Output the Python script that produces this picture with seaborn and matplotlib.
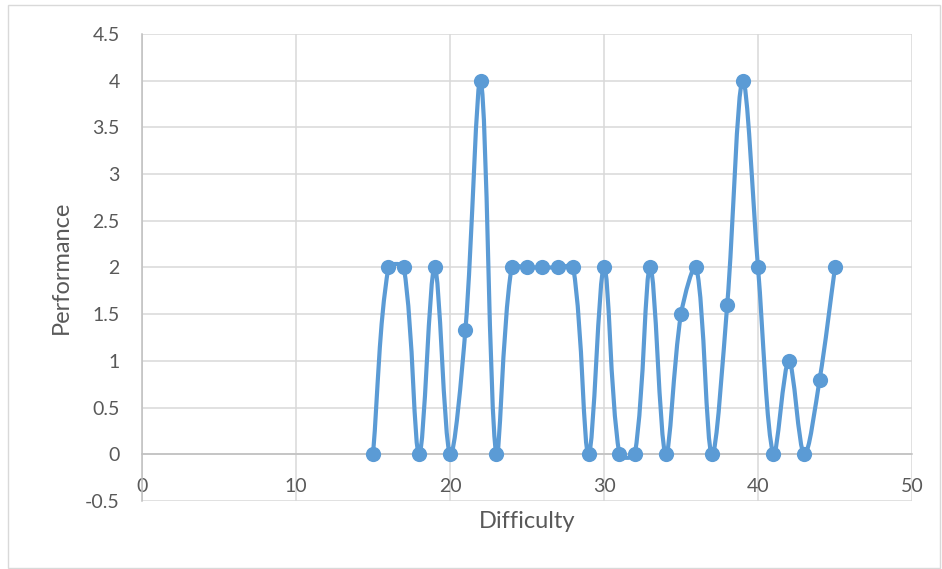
import numpy as np
import pandas as pd
import matplotlib
matplotlib.use("Agg")
import matplotlib.pyplot as plt
from matplotlib.path import Path
from matplotlib.patches import PathPatch, Rectangle
import seaborn as sns

# data
difficulty = [15, 16, 17, 18, 19, 20, 21, 22, 23, 24, 25, 26, 27, 28, 29, 30,
              31, 32, 33, 34, 35, 36, 37, 38, 39, 40, 41, 42, 43, 44, 45]
performance = [0, 2, 2, 0, 2, 0, 1.33, 4, 0, 2, 2, 2, 2, 2, 0, 2,
               0, 0, 2, 0, 1.5, 2, 0, 1.6, 4, 2, 0, 1, 0, 0.8, 2]
x_ticks = [0, 10, 20, 30, 40, 50]
y_ticks = [-0.5, 0, 0.5, 1, 1.5, 2, 2.5, 3, 3.5, 4, 4.5]

df = pd.DataFrame({"Difficulty": difficulty, "Performance": performance})

sns.set_style("white")
plt.rcParams["font.family"] = ["Lato", "DejaVu Sans"]

blue = "#5B9BD5"
grey_txt = "#595959"

fig = plt.figure(figsize=(9.42, 5.69), dpi=100)
fig.subplots_adjust(left=142 / 942, right=912 / 942, top=1 - 34 / 569, bottom=1 - 501 / 569)
ax = fig.add_subplot(111)
ax.set_xlim(0, 50)
ax.set_ylim(-0.5, 4.5)

# Excel-like smoothed line: bezier segments, control arms scaled by chord lengths
# (worked out in pixel space, then mapped back to data coordinates)
pix = ax.transData.transform(df[["Difficulty", "Performance"]].to_numpy(dtype=float))
n = len(pix)
verts = [pix[0]]
codes = [Path.MOVETO]
for i in range(n - 1):
    p_prev = pix[i - 1] if i > 0 else pix[i]
    p0, p1 = pix[i], pix[i + 1]
    p_next = pix[i + 2] if i + 2 < n else pix[i + 1]
    d_a = np.hypot(*(p0 - p_prev))
    d_b = np.hypot(*(p1 - p0))
    d_c = np.hypot(*(p_next - p1))
    f1 = d_b / (d_a + d_b) if d_a + d_b > 0 else 0
    f2 = d_b / (d_b + d_c) if d_b + d_c > 0 else 0
    c1 = p0 + (p1 - p_prev) * f1 / 3
    c2 = p1 - (p_next - p0) * f2 / 3
    verts += [c1, c2, p1]
    codes += [Path.CURVE4] * 3
verts = ax.transData.inverted().transform(np.array(verts))
ax.add_patch(PathPatch(Path(verts, codes), facecolor="none", edgecolor=blue,
                       lw=3.0, capstyle="round", joinstyle="round", zorder=3))

sns.scatterplot(data=df, x="Difficulty", y="Performance", ax=ax, color=blue,
                s=120, edgecolor=blue, linewidth=0, zorder=4, legend=False)

ax.set_xlim(0, 50)
ax.set_ylim(-0.5, 4.5)
ax.set_xticks(x_ticks)
ax.set_yticks(y_ticks)
ax.set_xticklabels([str(t) for t in x_ticks])
ax.set_yticklabels([f"{t:g}" for t in y_ticks])
ax.grid(True, color="#D9D9D9", lw=1.1, zorder=0)
ax.set_axisbelow(True)

for s in ["top", "right"]:
    ax.spines[s].set_visible(False)
ax.spines["bottom"].set_position(("data", 0))
ax.spines["bottom"].set_color("#BFBFBF")
ax.spines["left"].set_color("#BFBFBF")
ax.spines["bottom"].set_linewidth(1.1)
ax.spines["left"].set_linewidth(1.1)
ax.spines["bottom"].set_zorder(1)

ax.tick_params(axis="x", length=0, pad=17, labelsize=14, labelcolor=grey_txt)
ax.tick_params(axis="y", length=0, pad=16, labelsize=14, labelcolor=grey_txt)

ax.set_xlabel("Difficulty", fontsize=17, color=grey_txt)
ax.set_ylabel("Performance", fontsize=17, color=grey_txt)
ax.xaxis.set_label_coords(0.5, -0.022)
ax.yaxis.set_label_coords(-0.091, 0.5)

# chart area border
fig.patches.append(Rectangle((8 / 942, 1 / 569), 932 / 942, 563 / 569,
                             transform=fig.transFigure, fill=False,
                             edgecolor="#D9D9D9", lw=1.0))

fig.savefig("out.png", dpi=100)
